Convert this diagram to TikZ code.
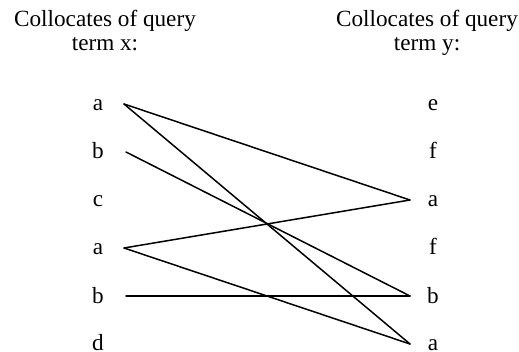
\documentclass[tikz,border=0pt]{standalone}
\usepackage{fontspec}
\setmainfont{Liberation Serif}
\begin{document}
\begin{tikzpicture}[x=0.5pt,y=-0.5pt,
  lbl/.style={font=\fontsize{11.6}{13}\selectfont, inner sep=0pt, anchor=base},
  link/.style={line width=0.75pt, line cap=round}]
\useasboundingbox (0,0) rectangle (519,352);
% headings
\node[lbl] (hx1) at (105,27) {Collocates of query};
\node[lbl] (hx2) at (105,51) {term x:};
\node[lbl] (hy1) at (427,27) {Collocates of query};
\node[lbl] (hy2) at (427,51) {term y:};
% left column
\node[lbl] (L1) at (98,111) {a};
\node[lbl] (L2) at (98,159) {b};
\node[lbl] (L3) at (98,207) {c};
\node[lbl] (L4) at (98,255) {a};
\node[lbl] (L5) at (98,303) {b};
\node[lbl] (L6) at (98,350) {d};
% right column
\node[lbl] (R1) at (433,111) {e};
\node[lbl] (R2) at (433,159) {f};
\node[lbl] (R3) at (433,207) {a};
\node[lbl] (R4) at (433,255) {f};
\node[lbl] (R5) at (433,303) {b};
\node[lbl] (R6) at (433,350) {a};
% endpoints
\coordinate (pL1) at (124,104);
\coordinate (pL2) at (126,152);
\coordinate (pL4) at (124,248);
\coordinate (pL5) at (126,296);
\coordinate (pR3) at (410,200);
\coordinate (pR5) at (410,296);
\coordinate (pR6) at (410,344);
% links
\draw[link] (pL1) -- (pR3);
\draw[link] (pL1) -- (pR6);
\draw[link] (pL2) -- (pR5);
\draw[link] (pL4) -- (pR3);
\draw[link] (pL4) -- (pR6);
\draw[link] (pL5) -- (pR5);
\end{tikzpicture}
\end{document}
